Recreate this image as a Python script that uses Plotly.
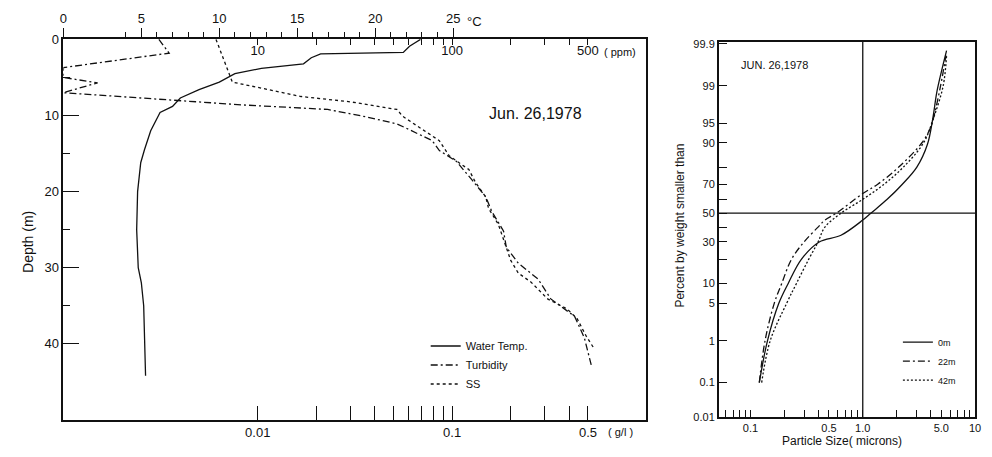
import plotly.graph_objects as go
from statistics import NormalDist

# ---------------- Left chart data ----------------
temp_depth = [0, 0.9, 1.7, 1.9, 2.4, 3.2, 3.8, 4.5, 5.6, 6.6, 7.7, 8.8, 9.6, 12, 14.5, 16.2, 20, 25, 30, 32, 35, 44.2]
temp_c = [22.9, 22.2, 21.8, 16.5, 15.9, 15.4, 12.7, 11.0, 10.0, 8.7, 7.5, 7.0, 6.2, 5.6, 5.2, 4.96, 4.76, 4.7, 4.8, 5.0, 5.15, 5.27]

turb_depth = [0, 1.8, 3.7, 5.0, 5.7, 7.0, 8.6, 9.2, 10.2, 11.1, 11.7, 13.3, 14.6, 16.0, 18.4, 20.7, 22.6, 25.2, 27.3, 29.4, 31.5, 32.8, 34.1, 36.4, 39.2, 42.8]
turb_ppm = [3.1, 3.5, 1.0, 1.0, 1.5, 1.0, 8.3, 22.9, 36.6, 52, 58.5, 79, 86, 105, 126, 149, 160, 184, 190, 219, 277, 300, 322, 427, 479, 520]

ss_depth = [0, 5.6, 7.5, 8.2, 9.2, 10.1, 13.3, 15.3, 17.1, 18.8, 20.7, 22.2, 24.3, 26.4, 29.0, 30.7, 31.9, 34.1, 35.4, 36.7, 39.0, 40.7]
ss_gl = [0.0061, 0.0074, 0.0167, 0.030, 0.052, 0.0557, 0.0859, 0.0966, 0.122, 0.132, 0.149, 0.154, 0.173, 0.184, 0.200, 0.219, 0.255, 0.31, 0.39, 0.44, 0.49, 0.54]

depth_major = [0, 10, 20, 30, 40]
depth_minor = [5, 15, 25, 35]
temp_major = [0, 5, 10, 15, 20, 25]
temp_minor = [4, 6, 7, 8, 9, 11, 12, 13, 14, 16, 17, 18, 19, 21, 22, 23, 24]
ppm_ticks = [10, 20, 30, 40, 50, 60, 70, 80, 90, 100, 200, 300, 400, 500]
ppm_labels = ["10", "", "", "", "", "", "", "", "", "100", "", "", "", "500"]
gl_ticks = [0.01, 0.02, 0.03, 0.04, 0.05, 0.06, 0.07, 0.08, 0.09, 0.1, 0.2, 0.3, 0.4, 0.5]
gl_labels = ["0.01", "", "", "", "", "", "", "", "", "0.1", "", "", "", "0.5"]

# ---------------- Right chart data ----------------
size_0m = [0.12, 0.142, 0.179, 0.217, 0.284, 0.41, 0.64, 1.0, 1.18, 1.65, 2.24, 3.03, 3.76, 4.2, 4.55, 5.0, 5.57]
pct_0m = [0.1, 1, 5, 10, 20, 30, 34.4, 45, 50, 60, 70, 80, 89.5, 95.8, 98.6, 99.5, 99.85]
size_22m = [0.12, 0.135, 0.163, 0.19, 0.232, 0.30, 0.40, 0.46, 0.58, 1.0, 1.35, 2.09, 3.35, 4.0, 4.25, 4.93, 5.5]
pct_22m = [0.1, 1, 5, 10, 20, 30, 40, 45, 50, 64, 70, 80, 90, 94, 95.8, 99, 99.8]
size_42m = [0.126, 0.15, 0.21, 0.257, 0.33, 0.40, 0.46, 0.64, 1.0, 1.54, 2.3, 3.47, 4.25, 5.2, 5.57]
pct_42m = [0.1, 1, 5, 10, 20, 30, 40, 50, 60, 70, 80, 90, 95.8, 99, 99.8]

prob_ticks = [0.01, 0.1, 1, 5, 10, 20, 30, 40, 50, 60, 70, 80, 90, 95, 99, 99.9]
prob_labels = ["0.01", "0.1", "1", "5", "10", "", "30", "", "50", "", "70", "", "90", "95", "99", "99.9"]
size_ticks = [0.06, 0.07, 0.08, 0.09, 0.1, 0.2, 0.3, 0.4, 0.5, 0.6, 0.7, 0.8, 0.9, 1.0,
              2, 3, 4, 5, 6, 7, 8, 9, 10]
size_labels = ["", "", "", "", "0.1", "", "", "", "0.5", "", "", "", "", "1.0",
               "", "", "", "5.0", "", "", "", "", "10"]
grid_size = [1.0]
grid_pct = [50]

W, H = 992, 457
nd = NormalDist()


def z(p):
    return nd.inv_cdf(p / 100.0)


def px(x):
    return x / W


def py(y):
    return 1 - y / H


FONT = "Liberation Sans, Arial, sans-serif"
BLACK = "#111111"
DASHDOT = "7px,3px,2px,3px"

fig = go.Figure()

fig.add_trace(go.Scatter(x=temp_c, y=temp_depth, xaxis="x2", yaxis="y", mode="lines",
                         name="Water Temp.", line=dict(color=BLACK, width=1.3), legend="legend"))
fig.add_trace(go.Scatter(x=turb_ppm, y=turb_depth, xaxis="x3", yaxis="y", mode="lines",
                         name="Turbidity", line=dict(color=BLACK, width=1.3, dash=DASHDOT),
                         legend="legend"))
fig.add_trace(go.Scatter(x=ss_gl, y=ss_depth, xaxis="x", yaxis="y", mode="lines",
                         name="SS", line=dict(color=BLACK, width=1.3, dash="3px,3px"), legend="legend"))

fig.add_trace(go.Scatter(x=size_0m, y=[z(p) for p in pct_0m], xaxis="x4", yaxis="y2", mode="lines",
                         name="0m", line=dict(color=BLACK, width=1.3, shape="spline"), legend="legend2"))
fig.add_trace(go.Scatter(x=size_22m, y=[z(p) for p in pct_22m], xaxis="x4", yaxis="y2", mode="lines",
                         name="22m", line=dict(color=BLACK, width=1.3, dash=DASHDOT, shape="spline"),
                         legend="legend2"))
fig.add_trace(go.Scatter(x=size_42m, y=[z(p) for p in pct_42m], xaxis="x4", yaxis="y2", mode="lines",
                         name="42m", line=dict(color=BLACK, width=1.3, dash="2px,2px", shape="spline"),
                         legend="legend2"))

tickfont_l = dict(family=FONT, size=13, color=BLACK)
tickfont_r = dict(family=FONT, size=11, color=BLACK)

left_dom_x = [px(60), px(649)]
left_dom_y = [py(425), py(33)]
right_dom_x = [px(722), px(981)]
right_dom_y = [py(422), py(36)]

fig.update_layout(
    width=W, height=H,
    margin=dict(l=0, r=0, t=0, b=0),
    paper_bgcolor="white", plot_bgcolor="white",
    font=dict(family=FONT, color=BLACK),
    xaxis=dict(domain=left_dom_x, anchor="y", type="log", range=[-3, 0],
               tickvals=gl_ticks, ticktext=gl_labels, ticks="inside", ticklen=14,
               tickcolor=BLACK, tickwidth=1.2, showgrid=False, zeroline=False,
               showline=True, linecolor=BLACK, linewidth=1.5, tickfont=tickfont_l,
               ticklabeloverflow="allow"),
    xaxis2=dict(overlaying="x", anchor="y", side="top", range=[0, 589 / 15.75],
                tickvals=temp_major, ticks="outside", ticklen=9, tickcolor=BLACK, tickwidth=1.2,
                minor=dict(tickvals=temp_minor, ticks="outside", ticklen=5, tickcolor=BLACK, tickwidth=1),
                showgrid=False, zeroline=False, showline=True, linecolor=BLACK, linewidth=1.5,
                tickfont=tickfont_l, ticklabeloverflow="allow"),
    xaxis3=dict(overlaying="x", anchor="y", side="top", type="log", range=[0, 3],
                tickvals=ppm_ticks, ticktext=ppm_labels, ticks="inside", ticklen=6,
                tickcolor=BLACK, tickwidth=1.2, ticklabelposition="inside",
                showgrid=False, zeroline=False, showline=False, tickfont=tickfont_l,
                ticklabeloverflow="allow"),
    yaxis=dict(domain=left_dom_y, anchor="x", range=[50, -0.05],
               tickvals=depth_major, ticks="inside", ticklen=16, tickcolor=BLACK, tickwidth=1.3,
               minor=dict(tickvals=depth_minor, ticks="inside", ticklen=7, tickcolor=BLACK, tickwidth=1.1),
               showgrid=False, zeroline=False, showline=True, mirror=True,
               linecolor=BLACK, linewidth=1.5, tickfont=tickfont_l, ticklabeloverflow="allow"),
    xaxis4=dict(domain=right_dom_x, anchor="y2", type="log", range=[-1.282, 1.0],
                tickvals=size_ticks, ticktext=size_labels, ticks="inside", ticklen=7,
                tickcolor=BLACK, tickwidth=1.2, showgrid=False, zeroline=False,
                showline=True, mirror=True, linecolor=BLACK, linewidth=1.5, tickfont=tickfont_r,
                ticklabeloverflow="allow"),
    yaxis2=dict(domain=right_dom_y, anchor="x4", range=[z(0.01), 3.125],
                tickvals=[z(p) for p in prob_ticks], ticktext=prob_labels, ticks="inside", ticklen=9,
                tickcolor=BLACK, tickwidth=1.3, showgrid=False, zeroline=False,
                showline=True, mirror=True, linecolor=BLACK, linewidth=1.5, tickfont=tickfont_r,
                ticklabeloverflow="allow"),
    legend=dict(x=px(426), y=py(334), xanchor="left", yanchor="top", bgcolor="rgba(0,0,0,0)",
                font=dict(family=FONT, size=11, color=BLACK), itemwidth=30, tracegroupgap=0,
                traceorder="normal"),
    legend2=dict(x=px(903), y=py(330), xanchor="left", yanchor="top", bgcolor="rgba(0,0,0,0)",
                 font=dict(family=FONT, size=9, color=BLACK), itemwidth=30, tracegroupgap=0,
                 traceorder="normal"),
    showlegend=True,
)

# reference lines of the probability chart
for gx in grid_size:
    fig.add_shape(type="line", xref="x4", yref="y2 domain", x0=gx, x1=gx, y0=0, y1=1,
                  line=dict(color=BLACK, width=1.3))
for gp in grid_pct:
    fig.add_shape(type="line", xref="x4 domain", yref="y2", x0=0, x1=1, y0=z(gp), y1=z(gp),
                  line=dict(color=BLACK, width=1.3))

ann = [
    dict(text="Jun. 26,1978", x=px(488), y=py(110), xanchor="left", yanchor="middle", size=16),
    dict(text="°C", x=px(466), y=py(15), xanchor="left", yanchor="middle", size=13),
    dict(text="( ppm)", x=px(604), y=py(46), xanchor="left", yanchor="middle", size=11),
    dict(text="( g/l )", x=px(608), y=py(437), xanchor="left", yanchor="middle", size=11),
    dict(text="JUN. 26,1978", x=px(742), y=py(60), xanchor="left", yanchor="middle", size=11),
    dict(text="Particle Size( microns)", x=px(847), y=py(447), xanchor="center", yanchor="middle", size=12),
]
for a in ann:
    fig.add_annotation(text=a["text"], x=a["x"], y=a["y"], xref="paper", yref="paper",
                       xanchor=a["xanchor"], yanchor=a["yanchor"], showarrow=False,
                       font=dict(family=FONT, size=a["size"], color=BLACK))

fig.add_annotation(text="Depth (m)", x=px(14), y=py(242), xref="paper", yref="paper",
                   textangle=-90, showarrow=False, font=dict(family=FONT, size=14, color=BLACK))
fig.add_annotation(text="Percent by weight smaller than", x=px(692), y=py(225), xref="paper", yref="paper",
                   textangle=-90, showarrow=False, font=dict(family=FONT, size=12, color=BLACK))

fig.write_html("out.html", config={"displayModeBar": False},
               post_script="document.body.style.margin='0';document.body.style.overflow='hidden';")
